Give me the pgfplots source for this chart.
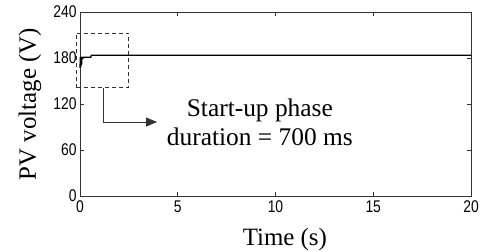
\documentclass[border=0pt]{standalone}
\usepackage{pgfplots}
\pgfplotsset{compat=1.18}
\usepackage{fontspec}
\setmainfont{Liberation Serif}
\newfontfamily\tickfont[FakeStretch=0.82]{Liberation Sans}
\usetikzlibrary{calc,arrows.meta}
\begin{document}
\begin{tikzpicture}
\begin{axis}[
  scale only axis,
  width=391bp, height=184bp,
  xmin=0, xmax=20, ymin=0, ymax=240,
  xtick={0,5,10,15,20},
  ytick={0,60,120,180,240},
  tick align=inside,
  major tick length=4bp,
  axis line style={line width=0.8bp, black!80},
  every tick/.style={line width=0.8bp, black!80},
  /pgf/number format/assume math mode=true,
  tick label style={font=\tickfont\fontsize{17}{17}\selectfont},
  xticklabel style={yshift=-1bp},
  yticklabel style={xshift=0bp},
  xlabel={Time (s)},
  ylabel={PV voltage (V)},
  label style={font=\fontsize{25}{25}\selectfont},
  xlabel style={at={(axis description cs:0.524,-0.239)}, anchor=center},
  ylabel style={at={(axis description cs:-0.128,0.5)}, anchor=center},
  clip=false,
]
\addplot[black, line width=1.3bp] coordinates {
  (0,167) (0.02,181) (0.04,168) (0.06,181) (0.08,171) (0.1,181)
  (0.55,181) (0.58,183.5) (20,183.5)
};
\draw[black!80, line width=0.9bp, dash pattern=on 4bp off 3bp]
  (axis cs:-0.2,141) rectangle (axis cs:2.5,212.5);
\draw[black!80, line width=0.9bp, -{Triangle[length=11bp,width=9bp]}]
  (axis cs:1.18,141) -- (axis cs:1.18,96.5) -- (axis cs:3.94,96.5);
\node[align=center, font=\fontsize{25.5}{29}\selectfont, anchor=center]
  at (axis cs:9.2,96) {Start-up phase\\duration = 700 ms};
\end{axis}
\pgfresetboundingbox
\path ($(current axis.south west)+(-80bp,-56bp)$) rectangle ($(current axis.north east)+(11bp,12bp)$);
\end{tikzpicture}
\end{document}
